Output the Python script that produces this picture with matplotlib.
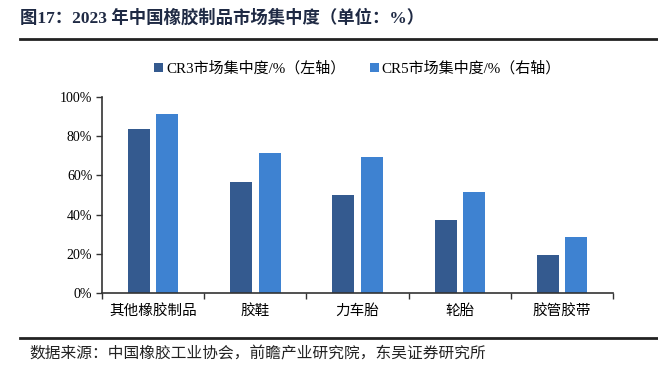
import numpy as np
import matplotlib
matplotlib.use("agg")
import matplotlib.pyplot as plt
from matplotlib.lines import Line2D
from matplotlib.ticker import PercentFormatter

plt.rcParams['font.family'] = ['Liberation Serif', 'Noto Sans CJK SC', 'DejaVu Sans']

categories = ["其他橡胶制品", "胶鞋", "力车胎", "轮胎", "胶管胶带"]
cr3 = [83.5, 56.5, 50.0, 37.0, 19.3]
cr5 = [91.5, 71.3, 69.3, 51.3, 28.6]
series_names = ["CR3市场集中度/%（左轴）", "CR5市场集中度/%（右轴）"]

dark_blue = "#345a8f"
light_blue = "#3e82d1"

fig = plt.figure(figsize=(6.58, 3.75), dpi=100)
ax = fig.add_axes([0.155, 0.219, 0.777, 0.522])

x = np.arange(len(categories))
w = 0.215
gap = 0.065
ax.bar(x - (w + gap) / 2, cr3, width=w, color=dark_blue, label=series_names[0])
ax.bar(x + (w + gap) / 2, cr5, width=w, color=light_blue, label=series_names[1])

ax.set_xlim(-0.5, len(categories) - 0.5)
ax.set_ylim(0, 100)
ax.set_yticks(np.arange(0, 101, 20))
ax.yaxis.set_major_formatter(PercentFormatter(decimals=0))
ax.set_xticks(np.arange(-0.5, len(categories), 1.0))
ax.set_xticklabels([])
ax.set_xticks(x, minor=True)
ax.set_xticklabels(categories, minor=True, fontsize=10.5)
ax.tick_params(axis='x', which='minor', length=0, pad=8)
ax.tick_params(axis='x', which='major', length=4, width=1, color="#333333")
ax.tick_params(axis='y', length=4, width=1, color="#333333", labelsize=10, pad=3)
for side in ["top", "right"]:
    ax.spines[side].set_visible(False)
for side in ["left", "bottom"]:
    ax.spines[side].set_color("#333333")
    ax.spines[side].set_linewidth(1.2)

ax.legend(loc="lower center", bbox_to_anchor=(0.5, 1.04), ncol=2, frameon=False,
          fontsize=10.8, handlelength=0.6, handleheight=0.6, handletextpad=0.2,
          columnspacing=1.6)

fig.text(0.03, 0.953, "图17：2023 年中国橡胶制品市场集中度（单位：%）", fontsize=12.5,
         fontweight="bold", color="#1f2a44", va="center")
fig.add_artist(Line2D([0.03, 1.0], [0.895, 0.895], color="#222222", lw=2))
fig.add_artist(Line2D([0.03, 1.0], [0.098, 0.098], color="#222222", lw=2))
fig.text(0.045, 0.055, "数据来源：中国橡胶工业协会，前瞻产业研究院，东吴证券研究所", fontsize=11.3,
         color="#222222", va="center")

fig.savefig("out.png", dpi=100)
